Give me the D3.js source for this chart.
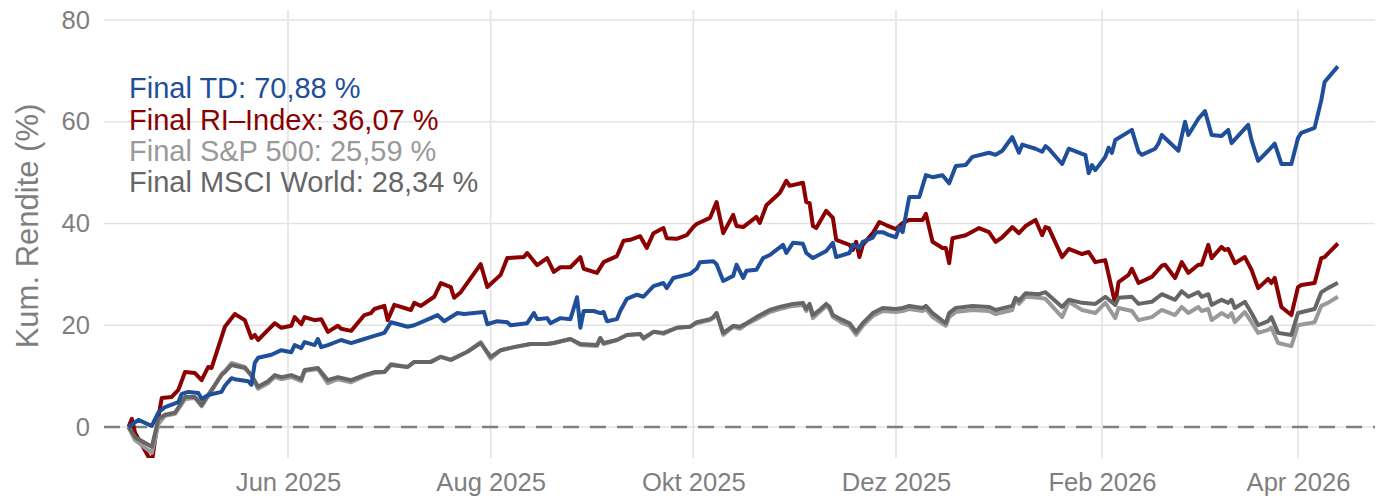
<!DOCTYPE html>
<html><head><meta charset="utf-8">
<script src="https://cdn.jsdelivr.net/npm/d3@7"></script>
<style>body{margin:0;background:#fff}svg{display:block}</style>
</head><body>
<svg id="chart" width="1378" height="498"></svg>
<script>
// ---------- data ----------
const seriesNames = ["TD", "RI\u2013Index", "S&P 500", "MSCI World"];
const finalValues = ["70,88", "36,07", "25,59", "28,34"];
const seriesColors = ["#1F4E9B", "#8B0000", "#999999", "#666666"];

const xTickDates = ["2025-06-01","2025-08-01","2025-10-01","2025-12-01","2026-02-01","2026-04-01"];
const xTickLabels = ["Jun 2025","Aug 2025","Okt 2025","Dez 2025","Feb 2026","Apr 2026"];
const yTicks = [0, 20, 40, 60, 80];

const tdDates = ["2025-04-14","2025-04-17","2025-04-21","2025-04-23","2025-04-25","2025-04-29","2025-04-30","2025-05-02","2025-05-05","2025-05-06","2025-05-08","2025-05-12","2025-05-13","2025-05-15","2025-05-16","2025-05-20","2025-05-21","2025-05-22","2025-05-23","2025-05-27","2025-05-30","2025-06-02","2025-06-03","2025-06-05","2025-06-06","2025-06-09","2025-06-10","2025-06-11","2025-06-13","2025-06-17","2025-06-20","2025-06-23","2025-06-26","2025-06-30","2025-07-02","2025-07-07","2025-07-09","2025-07-14","2025-07-16","2025-07-18","2025-07-22","2025-07-24","2025-07-30","2025-07-31","2025-08-03","2025-08-06","2025-08-07","2025-08-12","2025-08-14","2025-08-15","2025-08-18","2025-08-19","2025-08-22","2025-08-25","2025-08-27","2025-08-28","2025-08-29","2025-09-01","2025-09-03","2025-09-04","2025-09-05","2025-09-08","2025-09-09","2025-09-11","2025-09-14","2025-09-16","2025-09-19","2025-09-22","2025-09-23","2025-09-25","2025-09-30","2025-10-02","2025-10-03","2025-10-07","2025-10-08","2025-10-10","2025-10-13","2025-10-14","2025-10-16","2025-10-17","2025-10-20","2025-10-22","2025-10-24","2025-10-28","2025-10-29","2025-10-31","2025-11-03","2025-11-04","2025-11-06","2025-11-10","2025-11-12","2025-11-13","2025-11-17","2025-11-18","2025-11-20","2025-11-21","2025-11-24","2025-11-25","2025-11-27","2025-11-29","2025-12-01","2025-12-02","2025-12-03","2025-12-05","2025-12-08","2025-12-10","2025-12-12","2025-12-15","2025-12-17","2025-12-19","2025-12-22","2025-12-24","2025-12-29","2025-12-31","2026-01-02","2026-01-05","2026-01-07","2026-01-08","2026-01-12","2026-01-14","2026-01-15","2026-01-16","2026-01-20","2026-01-22","2026-01-26","2026-01-27","2026-01-28","2026-01-29","2026-01-30","2026-02-02","2026-02-03","2026-02-04","2026-02-05","2026-02-10","2026-02-12","2026-02-13","2026-02-17","2026-02-18","2026-02-19","2026-02-24","2026-02-26","2026-02-27","2026-03-02","2026-03-04","2026-03-06","2026-03-09","2026-03-11","2026-03-12","2026-03-17","2026-03-18","2026-03-20","2026-03-23","2026-03-25","2026-03-27","2026-03-30","2026-04-01","2026-04-02","2026-04-06","2026-04-08","2026-04-09","2026-04-13"];
const tdValues = [0.0,1.4,0.2,2.9,3.9,4.9,6.5,6.9,6.7,5.5,6.3,6.9,8.1,9.6,9.4,9.0,8.3,12.6,13.6,14.2,15.1,14.7,16.1,15.5,16.7,16.1,17.3,15.7,16.1,17.1,16.5,17.1,17.7,18.5,20.6,19.7,20.0,21.4,22.0,20.8,22.4,22.2,22.6,20.2,20.8,20.6,20.0,20.4,22.4,21.2,21.4,20.4,21.4,21.2,25.5,19.5,22.8,22.8,22.4,22.6,20.8,21.2,22.8,25.2,26.0,25.6,27.7,28.3,27.3,29.3,30.1,31.1,32.4,32.6,32.0,28.7,29.7,31.9,29.3,30.7,30.9,33.2,33.8,35.8,34.2,36.2,36.0,34.2,33.2,34.6,36.2,33.4,34.2,35.8,35.2,36.4,37.2,38.3,38.3,37.7,37.3,39.3,38.3,45.2,45.2,49.5,49.1,49.5,47.9,51.3,51.5,53.1,53.9,53.5,54.3,57.0,53.9,55.5,54.7,54.1,55.2,54.7,51.7,54.7,53.7,53.5,49.9,51.5,50.5,53.1,54.9,53.9,56.4,58.4,54.1,53.5,54.7,55.7,57.4,54.3,60.0,57.4,60.6,62.1,57.4,57.2,58.4,55.8,59.4,56.4,52.3,54.3,55.7,51.7,51.7,56.8,57.8,58.8,64.2,67.8,70.88];

const riDates = ["2025-04-14","2025-04-15","2025-04-16","2025-04-21","2025-04-23","2025-04-24","2025-04-27","2025-04-29","2025-05-01","2025-05-04","2025-05-06","2025-05-08","2025-05-09","2025-05-13","2025-05-16","2025-05-19","2025-05-21","2025-05-22","2025-05-23","2025-05-26","2025-05-28","2025-05-30","2025-06-02","2025-06-03","2025-06-05","2025-06-06","2025-06-09","2025-06-11","2025-06-13","2025-06-16","2025-06-17","2025-06-20","2025-06-24","2025-06-26","2025-06-27","2025-06-30","2025-07-01","2025-07-03","2025-07-08","2025-07-09","2025-07-11","2025-07-15","2025-07-17","2025-07-20","2025-07-21","2025-07-23","2025-07-29","2025-07-31","2025-08-04","2025-08-06","2025-08-11","2025-08-12","2025-08-15","2025-08-18","2025-08-20","2025-08-22","2025-08-25","2025-08-28","2025-08-29","2025-09-02","2025-09-04","2025-09-08","2025-09-10","2025-09-12","2025-09-15","2025-09-17","2025-09-19","2025-09-22","2025-09-23","2025-09-26","2025-09-29","2025-10-01","2025-10-02","2025-10-06","2025-10-08","2025-10-10","2025-10-13","2025-10-14","2025-10-16","2025-10-20","2025-10-21","2025-10-23","2025-10-27","2025-10-29","2025-10-30","2025-11-03","2025-11-04","2025-11-05","2025-11-06","2025-11-07","2025-11-10","2025-11-12","2025-11-13","2025-11-17","2025-11-18","2025-11-19","2025-11-20","2025-11-21","2025-11-24","2025-11-26","2025-11-28","2025-12-01","2025-12-03","2025-12-05","2025-12-09","2025-12-10","2025-12-12","2025-12-15","2025-12-16","2025-12-17","2025-12-18","2025-12-22","2025-12-26","2025-12-29","2025-12-31","2026-01-02","2026-01-05","2026-01-07","2026-01-09","2026-01-12","2026-01-14","2026-01-15","2026-01-16","2026-01-20","2026-01-22","2026-01-26","2026-01-28","2026-01-30","2026-02-02","2026-02-05","2026-02-06","2026-02-09","2026-02-10","2026-02-12","2026-02-16","2026-02-19","2026-02-20","2026-02-23","2026-02-25","2026-02-27","2026-03-02","2026-03-03","2026-03-05","2026-03-06","2026-03-09","2026-03-10","2026-03-11","2026-03-13","2026-03-16","2026-03-18","2026-03-20","2026-03-23","2026-03-24","2026-03-25","2026-03-27","2026-03-30","2026-04-01","2026-04-02","2026-04-06","2026-04-08","2026-04-09","2026-04-13"];
const riValues = [0,1.6,-1.2,-7.0,2.0,5.7,5.9,7.3,10.8,10.6,9.2,11.8,11.6,19.7,22.2,21.0,17.5,18.1,17.1,19.1,20.4,19.5,19.9,21.6,20.2,21.6,21.0,21.2,18.7,19.9,19.3,18.9,22.0,22.4,23.2,23.8,21.0,24.0,23.0,24.4,23.8,25.6,28.3,27.5,25.4,26.5,32.0,27.5,29.9,33.2,33.4,34.2,31.8,33.2,30.5,31.4,31.4,33.4,31.1,30.3,32.4,33.6,36.6,36.8,37.5,35.2,38.1,39.1,37.1,37.0,37.7,39.3,39.9,41.1,44.2,38.1,41.7,39.5,39.3,41.3,40.1,43.6,46.0,48.4,47.4,48.0,44.2,44.0,39.5,39.1,42.5,41.1,36.8,35.8,34.8,36.4,33.4,35.8,38.1,40.3,39.7,38.9,40.1,40.7,40.7,41.9,36.4,35.2,35.2,32.2,37.1,37.7,39.1,38.3,36.4,37.3,39.3,38.1,39.5,40.7,37.7,39.3,39.1,33.4,35.0,34.0,34.4,32.4,32.8,24.2,28.5,29.9,31.1,28.3,29.5,31.7,31.9,29.3,32.4,30.3,31.9,31.9,35.8,33.2,35.4,34.8,35.0,32.2,33.4,30.9,27.3,29.1,28.3,29.3,23.6,22.0,27.5,27.9,28.3,33.2,33.4,36.07];

const idxDates = ["2025-04-14","2025-04-16","2025-04-21","2025-04-23","2025-04-25","2025-04-28","2025-05-01","2025-05-04","2025-05-06","2025-05-08","2025-05-09","2025-05-12","2025-05-13","2025-05-15","2025-05-19","2025-05-21","2025-05-23","2025-05-26","2025-05-28","2025-05-30","2025-06-02","2025-06-05","2025-06-06","2025-06-10","2025-06-13","2025-06-16","2025-06-20","2025-06-24","2025-06-27","2025-06-30","2025-07-02","2025-07-07","2025-07-09","2025-07-14","2025-07-17","2025-07-20","2025-07-25","2025-07-29","2025-08-01","2025-08-04","2025-08-08","2025-08-13","2025-08-18","2025-08-20","2025-08-25","2025-08-28","2025-09-02","2025-09-03","2025-09-04","2025-09-08","2025-09-11","2025-09-15","2025-09-16","2025-09-19","2025-09-22","2025-09-26","2025-09-30","2025-10-02","2025-10-06","2025-10-07","2025-10-08","2025-10-10","2025-10-13","2025-10-15","2025-10-17","2025-10-20","2025-10-24","2025-10-27","2025-10-31","2025-11-03","2025-11-04","2025-11-05","2025-11-06","2025-11-08","2025-11-10","2025-11-11","2025-11-12","2025-11-15","2025-11-17","2025-11-19","2025-11-21","2025-11-24","2025-11-27","2025-12-01","2025-12-03","2025-12-05","2025-12-09","2025-12-10","2025-12-12","2025-12-16","2025-12-17","2025-12-19","2025-12-24","2025-12-29","2025-12-31","2026-01-05","2026-01-06","2026-01-07","2026-01-09","2026-01-13","2026-01-15","2026-01-20","2026-01-22","2026-01-26","2026-01-30","2026-02-02","2026-02-05","2026-02-06","2026-02-10","2026-02-12","2026-02-16","2026-02-19","2026-02-23","2026-02-25","2026-02-27","2026-03-02","2026-03-03","2026-03-05","2026-03-06","2026-03-09","2026-03-11","2026-03-12","2026-03-13","2026-03-16","2026-03-18","2026-03-20","2026-03-23","2026-03-24","2026-03-26","2026-03-30","2026-04-01","2026-04-06","2026-04-08","2026-04-10","2026-04-13"];
const spValues = [0,-2.6,-5.1,0.6,2.2,2.6,5.5,5.7,4.1,6.1,7.1,10.4,11.0,12.6,11.8,10.0,7.5,8.6,9.8,9.4,9.8,9.0,11.0,11.4,8.6,9.4,8.8,10.0,10.6,10.8,12.4,11.8,12.8,12.8,13.8,13.2,14.8,16.7,13.4,15.1,15.7,16.3,16.3,16.5,17.3,16.1,15.9,17.5,16.3,17.1,18.1,18.3,17.3,18.7,18.3,19.5,19.7,20.4,21.0,21.4,22.4,18.1,19.7,19.3,20.2,21.2,22.6,23.2,23.8,24.0,22.8,23.8,21.4,22.6,23.8,23.2,21.6,20.4,19.9,18.1,19.9,21.8,22.8,22.6,22.8,23.2,22.8,23.2,21.6,19.9,21.6,22.6,23.0,22.8,22.2,23.0,25.2,24.2,25.6,25.4,25.2,21.6,24.6,23.0,22.4,24.4,21.4,23.4,22.8,21.0,21.6,23.0,22.0,23.6,22.4,23.6,22.8,23.2,21.0,22.4,21.6,22.4,20.6,22.6,20.6,18.5,19.1,19.5,16.5,15.9,20.0,20.6,23.8,24.4,25.59];
const msciValues = [0,-2.0,-3.9,1.6,2.4,2.8,5.9,5.9,4.3,6.3,7.3,10.2,10.8,12.2,11.6,10.2,7.9,9.0,10.2,9.8,10.2,9.4,11.2,11.6,9.2,9.8,9.2,10.2,10.8,10.8,12.2,11.8,12.8,12.8,13.8,13.2,14.8,16.5,13.8,15.1,15.7,16.3,16.3,16.5,17.3,16.3,16.1,17.5,16.5,17.1,18.1,18.3,17.5,18.7,18.5,19.5,19.7,20.6,21.2,21.6,22.4,18.5,19.9,19.7,20.4,21.6,23.0,23.6,24.2,24.4,23.2,24.2,22.0,23.0,24.2,23.6,22.0,21.0,20.4,18.7,20.4,22.4,23.4,23.2,23.4,23.8,23.4,23.8,22.4,20.4,22.4,23.4,23.8,23.6,23.0,23.8,25.4,24.8,26.3,26.1,26.5,23.6,25.0,24.4,24.2,25.6,24.0,25.4,25.6,24.2,24.6,26.1,25.0,26.7,25.6,26.5,25.6,26.1,24.0,25.0,24.4,25.0,23.4,24.6,22.4,20.0,20.8,21.6,18.5,18.1,22.4,23.2,26.5,27.3,28.34];

// ---------- chart ----------
const parse = d3.timeParse("%Y-%m-%d");
const svg = d3.select("#chart");
const panel = {left: 104, right: 1375, top: 10, bottom: 458};

const x = d3.scaleTime()
  .domain([parse("2025-06-01"), parse("2026-04-01")])
  .range([288, 1298]);
const y = d3.scaleLinear().domain([0, 80]).range([427, 20]);

const textColor = "#7F7F7F";
const font = "'Liberation Sans', Arial, Helvetica, sans-serif";

svg.append("defs").append("clipPath").attr("id", "clip")
  .append("rect")
  .attr("x", panel.left).attr("y", panel.top)
  .attr("width", panel.right - panel.left).attr("height", panel.bottom - panel.top);

// gridlines
const grid = svg.append("g");
grid.selectAll("line.h").data(yTicks).join("line")
  .attr("x1", panel.left).attr("x2", panel.right)
  .attr("y1", d => y(d)).attr("y2", d => y(d))
  .attr("stroke", "#E3E3E3").attr("stroke-width", 1.6);
grid.selectAll("line.v").data(xTickDates).join("line")
  .attr("x1", d => x(parse(d))).attr("x2", d => x(parse(d)))
  .attr("y1", panel.top).attr("y2", panel.bottom)
  .attr("stroke", "#E3E3E3").attr("stroke-width", 1.6);

// zero line
svg.append("line")
  .attr("x1", panel.left).attr("x2", panel.right)
  .attr("y1", y(0)).attr("y2", y(0))
  .attr("stroke", "#808080").attr("stroke-width", 2.6)
  .attr("stroke-dasharray", "16,11");

// axes
const xAxis = d3.axisBottom(x)
  .tickValues(xTickDates.map(parse))
  .tickFormat((d, i) => xTickLabels[i])
  .tickSize(0).tickPadding(15);
const gx = svg.append("g").attr("transform", `translate(0,${panel.bottom})`).call(xAxis);
const yAxis = d3.axisLeft(y).tickValues(yTicks).tickSize(0).tickPadding(14);
const gy = svg.append("g").attr("transform", `translate(${panel.left},0)`).call(yAxis);
[gx, gy].forEach(g => {
  g.select(".domain").remove();
  g.selectAll("text").attr("fill", textColor)
    .style("font-family", font).style("font-size", "25.6px");
});

// y title
svg.append("text")
  .attr("transform", `translate(38,226) rotate(-90)`)
  .attr("text-anchor", "middle")
  .attr("fill", textColor)
  .style("font-family", font).style("font-size", "31px")
  .text("Kum. Rendite (%)");

// lines
const line = d3.line().x(d => x(d[0])).y(d => y(d[1]));
const mk = (dates, vals) => dates.map((d, i) => [parse(d), vals[i]]);
const seriesData = [
  {data: mk(riDates, riValues), color: seriesColors[1]},
  {data: mk(idxDates, spValues), color: seriesColors[2]},
  {data: mk(idxDates, msciValues), color: seriesColors[3]},
  {data: mk(tdDates, tdValues), color: seriesColors[0]}
];
const lg = svg.append("g").attr("clip-path", "url(#clip)");
lg.selectAll("path").data(seriesData).join("path")
  .attr("d", d => line(d.data))
  .attr("fill", "none")
  .attr("stroke", d => d.color)
  .attr("stroke-width", 4)
  .attr("stroke-linejoin", "round")
  .attr("stroke-linecap", "butt");

// legend annotation
const legendBase = [98, 129.5, 161, 192];
svg.append("g").selectAll("text").data(seriesNames).join("text")
  .attr("x", 129).attr("y", (d, i) => legendBase[i])
  .attr("fill", (d, i) => seriesColors[i])
  .style("font-family", font).style("font-size", "29px")
  .text((d, i) => `Final ${d}: ${finalValues[i]} %`);
</script>
</body></html>
